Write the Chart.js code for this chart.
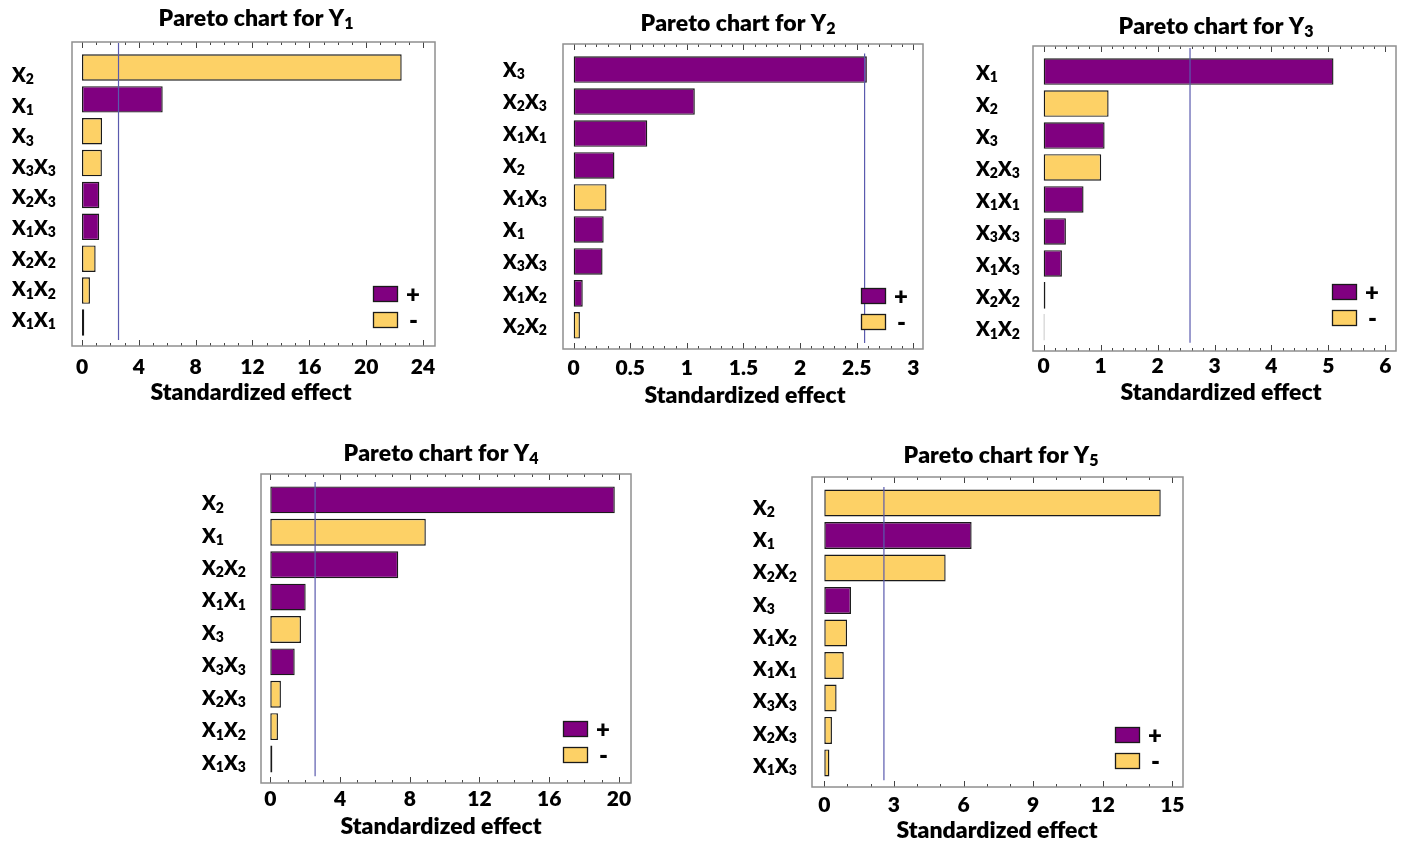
<!DOCTYPE html>
<html>
<head>
<meta charset="utf-8">
<title>Pareto charts of standardized effects</title>
<script src="https://cdn.jsdelivr.net/npm/chart.js@4.4.1/dist/chart.umd.min.js"></script>
<style>
  html, body { margin: 0; padding: 0; background: #fff; }
  body { width: 1406px; height: 841px; position: relative; overflow: hidden; }
  .panel { position: absolute; }
  .panel canvas { display: block; }
</style>
</head>
<body>
<div id="wrap"></div>
<script>
// ---- Standardized effects (absolute values) and their signs, per response ----
const y1Terms   = ['X₂', 'X₁', 'X₃', 'X₃X₃', 'X₂X₃', 'X₁X₃', 'X₂X₂', 'X₁X₂', 'X₁X₁'];
const y1Effects = [22.5, 5.68, 1.41, 1.40, 1.22, 1.21, 0.96, 0.56, 0.16];
const y1Signs   = ['-', '+', '-', '-', '+', '+', '-', '-', '+'];
const y1Ticks   = [0, 4, 8, 12, 16, 20, 24];

const y2Terms   = ['X₃', 'X₂X₃', 'X₁X₁', 'X₂', 'X₁X₃', 'X₁', 'X₃X₃', 'X₁X₂', 'X₂X₂'];
const y2Effects = [2.59, 1.07, 0.65, 0.36, 0.29, 0.265, 0.255, 0.08, 0.055];
const y2Signs   = ['+', '+', '+', '+', '-', '+', '+', '+', '-'];
const y2Ticks   = [0, 0.5, 1, 1.5, 2, 2.5, 3];

const y3Terms   = ['X₁', 'X₂', 'X₃', 'X₂X₃', 'X₁X₁', 'X₃X₃', 'X₁X₃', 'X₂X₂', 'X₁X₂'];
const y3Effects = [5.09, 1.14, 1.07, 1.01, 0.70, 0.39, 0.32, 0.03, 0.012];
const y3Signs   = ['+', '-', '+', '-', '+', '+', '+', '-', '+'];
const y3Ticks   = [0, 1, 2, 3, 4, 5, 6];

const y4Terms   = ['X₂', 'X₁', 'X₂X₂', 'X₁X₁', 'X₃', 'X₃X₃', 'X₂X₃', 'X₁X₂', 'X₁X₃'];
const y4Effects = [19.76, 8.92, 7.34, 2.03, 1.76, 1.40, 0.61, 0.44, 0.12];
const y4Signs   = ['+', '-', '+', '+', '-', '+', '-', '-', '+'];
const y4Ticks   = [0, 4, 8, 12, 16, 20];

const y5Terms   = ['X₂', 'X₁', 'X₂X₂', 'X₃', 'X₁X₂', 'X₁X₁', 'X₃X₃', 'X₂X₃', 'X₁X₃'];
const y5Effects = [14.5, 6.35, 5.23, 1.15, 0.98, 0.84, 0.53, 0.33, 0.22];
const y5Signs   = ['-', '+', '-', '+', '-', '-', '-', '-', '-'];
const y5Ticks   = [0, 3, 6, 9, 12, 15];

// Critical t value (alpha = 0.05) drawn as the reference line
const criticalT = 2.57;
const axisTitle = 'Standardized effect';

// ---- Styling ----
const FONT = "Lato, 'Noto Sans', 'DejaVu Sans', sans-serif";
const WEIGHT = '800';
const PLUS_COLOR = '#800080';
const MINUS_COLOR = '#FDD166';
const BAR_BORDER = '#1a1a1a';
const LINE_COLOR = '#5a5aae';
const FRAME_COLOR = '#8f8f8f';

// ---- Panel layout on the page ----
const panels = [
  { title: 'Pareto chart for Y₁', terms: y1Terms, effects: y1Effects, signs: y1Signs, ticks: y1Ticks,
    minor: 1, xMin: -0.704, xMax: 24.845, frame: [72, 42, 435, 346], labelLeft: 12,
    titleX: 256, titleY: 18, tickY: 367, axisTitleX: 251, axisTitleY: 392,
    labelShift: [7.5, -2.5], line: [-0.77, 8.55], legend: [37, 18] },
  { title: 'Pareto chart for Y₂', terms: y2Terms, effects: y2Effects, signs: y2Signs, ticks: y2Ticks,
    minor: 0.1, xMin: -0.0945, xMax: 3.086, frame: [563, 44, 923, 349], labelLeft: 503,
    titleX: 738, titleY: 23, tickY: 368, axisTitleX: 745, axisTitleY: 395,
    labelShift: [0, 0.5], line: [-0.5, 8.55], legend: [37, 19] },
  { title: 'Pareto chart for Y₃', terms: y3Terms, effects: y3Effects, signs: y3Signs, ticks: y3Ticks,
    minor: 0.2, xMin: -0.188, xMax: 6.188, frame: [1033, 46, 1396, 351], labelLeft: 976,
    titleX: 1216, titleY: 26, tickY: 366, axisTitleX: 1221, axisTitleY: 392,
    labelShift: [1, 2], line: [-0.74, 8.48], legend: [39, 25] },
  { title: 'Pareto chart for Y₄', terms: y4Terms, effects: y4Effects, signs: y4Signs, ticks: y4Ticks,
    minor: 1, xMin: -0.533, xMax: 20.69, frame: [261, 474, 631, 783], labelLeft: 202,
    titleX: 441, titleY: 453, tickY: 799, axisTitleX: 441, axisTitleY: 826,
    labelShift: [3.3, 3.5], line: [-0.55, 8.53], legend: [43, 20] },
  { title: 'Pareto chart for Y₅', terms: y5Terms, effects: y5Effects, signs: y5Signs, ticks: y5Ticks,
    minor: 1, xMin: -0.53, xMax: 15.46, frame: [812, 477, 1183, 787], labelLeft: 753,
    titleX: 1001, titleY: 455, tickY: 805, axisTitleX: 997, axisTitleY: 830,
    labelShift: [4.8, 2.8], line: [-0.49, 8.53], legend: [43, 18] }
];

// Text with subscript digits (₀..₉) drawn smaller and dropped below the baseline
const SUBS = '₀₁₂₃₄₅₆₇₈₉';
function drawRich(ctx, text, x, baseline, align, size) {
  const subSize = Math.round(size * 0.7);
  const drop = size * 0.12;
  const parts = [];
  for (const ch of text) {
    const k = SUBS.indexOf(ch);
    if (k >= 0) parts.push({ t: String(k), sub: true });
    else parts.push({ t: ch, sub: false });
  }
  const fontOf = p => `${WEIGHT} ${p.sub ? subSize : size}px ${FONT}`;
  let total = 0;
  parts.forEach(p => { ctx.font = fontOf(p); p.w = ctx.measureText(p.t).width; total += p.w; });
  let cx = align === 'center' ? x - total / 2 : align === 'right' ? x - total : x;
  ctx.textAlign = 'left';
  ctx.textBaseline = 'alphabetic';
  ctx.fillStyle = '#000';
  parts.forEach(p => {
    ctx.font = fontOf(p);
    ctx.fillText(p.t, cx, baseline + (p.sub ? drop : 0));
    cx += p.w;
  });
}

// Frame around the plot area with inward major/minor tick marks on top and bottom
const framePlugin = {
  id: 'paretoFrame',
  afterDraw(chart, args, opts) {
    const { ctx, chartArea: a, scales: { x } } = chart;
    ctx.save();
    ctx.strokeStyle = '#444';
    ctx.lineWidth = 1;
    const majors = opts.majors || [];
    const step = opts.minor;
    const start = Math.ceil(x.min / step - 1e-9);
    const end = Math.floor(x.max / step + 1e-9);
    for (let k = start; k <= end; k++) {
      const v = k * step;
      const isMajor = majors.some(m => Math.abs(m - v) < step * 1e-3);
      const len = isMajor ? 6 : 3;
      const px = Math.round(x.getPixelForValue(v)) + 0.5;
      ctx.beginPath();
      ctx.moveTo(px, a.bottom);
      ctx.lineTo(px, a.bottom - len);
      ctx.moveTo(px, a.top);
      ctx.lineTo(px, a.top + len);
      ctx.stroke();
    }
    ctx.strokeStyle = FRAME_COLOR;
    ctx.lineWidth = 1.5;
    ctx.strokeRect(a.left, a.top, a.right - a.left, a.bottom - a.top);
    ctx.restore();
  }
};

// Vertical reference line at the critical t value
const criticalLinePlugin = {
  id: 'criticalLine',
  afterDatasetsDraw(chart, args, opts) {
    const { ctx, scales: { x, y } } = chart;
    const px = x.getPixelForValue(opts.value);
    ctx.save();
    ctx.strokeStyle = LINE_COLOR;
    ctx.lineWidth = 1.2;
    ctx.beginPath();
    ctx.moveTo(px, y.getPixelForValue(opts.from));
    ctx.lineTo(px, y.getPixelForValue(opts.to));
    ctx.stroke();
    ctx.restore();
  }
};

// Sign legend ("+" / "-") placed inside the lower right corner of the plot
const signLegendPlugin = {
  id: 'signLegend',
  afterDatasetsDraw(chart, args, opts) {
    const { ctx, chartArea: a } = chart;
    const sw = 25, sh = 16, gap = 10;
    const right = a.right - opts.right;
    const bottom = a.bottom - opts.bottom;
    const items = chart.data.datasets;
    ctx.save();
    items.forEach((ds, i) => {
      const top = bottom - (items.length - i) * sh - (items.length - 1 - i) * gap;
      ctx.fillStyle = ds.backgroundColor;
      ctx.fillRect(right - sw, top, sw, sh);
      ctx.strokeStyle = BAR_BORDER;
      ctx.lineWidth = 1.3;
      ctx.strokeRect(right - sw + 0.5, top + 0.5, sw - 1, sh - 1);
      ctx.fillStyle = '#000';
      ctx.font = `${WEIGHT} 24px ${FONT}`;
      ctx.textBaseline = 'middle';
      ctx.textAlign = 'left';
      ctx.fillText(ds.label, right + (ds.label === '+' ? 8 : 11), top + sh / 2 + 1);
    });
    ctx.restore();
  }
};

// Panel title, axis title and the term labels beside each bar
const panelTextPlugin = {
  id: 'panelText',
  afterDraw(chart, args, o) {
    const { ctx, scales: { y } } = chart;
    ctx.save();
    drawRich(ctx, o.title, o.titleX, o.titleY + 8, 'center', 23);
    ctx.font = `${WEIGHT} 23px ${FONT}`;
    ctx.fillStyle = '#000';
    ctx.textAlign = 'center';
    ctx.textBaseline = 'alphabetic';
    ctx.fillText(o.axisTitle, o.axisTitleX, o.axisTitleY + 8);
    const n = o.terms.length;
    o.terms.forEach((t, i) => {
      const shift = o.shift[0] + (o.shift[1] - o.shift[0]) * i / (n - 1);
      const cy = y.getPixelForValue(i) + shift;
      drawRich(ctx, t, o.labelX, cy + 7, 'left', 20);
    });
    ctx.restore();
  }
};

const wrap = document.getElementById('wrap');

panels.forEach(p => {
  const [L, T, R, B] = p.frame;
  const left = p.labelLeft - 1;
  const top = p.titleY - 16;
  const width = R + 3 - left;
  const height = p.axisTitleY + 14 - top;

  const div = document.createElement('div');
  div.className = 'panel';
  div.style.left = left + 'px';
  div.style.top = top + 'px';
  const canvas = document.createElement('canvas');
  canvas.width = width;
  canvas.height = height;
  canvas.style.width = width + 'px';
  canvas.style.height = height + 'px';
  div.appendChild(canvas);
  wrap.appendChild(div);

  // Split effects into positive and negative series
  const plus = [], minus = [];
  p.effects.forEach((v, i) => {
    (p.signs[i] === '+' ? plus : minus).push({ x: v, y: i });
  });

  const xAxisHeight = (top + height) - B;

  new Chart(canvas, {
    type: 'bar',
    data: {
      datasets: [
        { label: '+', data: plus, backgroundColor: PLUS_COLOR },
        { label: '-', data: minus, backgroundColor: MINUS_COLOR }
      ]
    },
    plugins: [framePlugin, criticalLinePlugin, signLegendPlugin, panelTextPlugin],
    options: {
      responsive: false,
      animation: false,
      devicePixelRatio: 1,
      indexAxis: 'y',
      grouped: false,
      barPercentage: 0.83,
      categoryPercentage: 1,
      borderColor: BAR_BORDER,
      borderWidth: 1.4,
      borderSkipped: false,
      layout: { padding: { left: 0, right: 3, top: T - top, bottom: 0 } },
      scales: {
        x: {
          type: 'linear',
          position: 'bottom',
          min: p.xMin,
          max: p.xMax,
          grid: { display: false, drawTicks: false },
          border: { display: false },
          afterBuildTicks: s => { s.ticks = p.ticks.map(v => ({ value: v })); },
          afterFit: s => { s.height = xAxisHeight; s.paddingLeft = 0; s.paddingRight = 0; },
          ticks: {
            color: '#000',
            padding: p.tickY - B - 12,
            maxRotation: 0,
            autoSkip: false,
            font: { family: FONT, size: 21, weight: WEIGHT, lineHeight: 1.2 },
            callback: v => String(v)
          },
          title: { display: false }
        },
        y: {
          type: 'linear',
          position: 'left',
          reverse: true,
          offset: false,
          min: -0.8,
          max: 8.74,
          grid: { display: false, drawTicks: false },
          border: { display: false },
          afterBuildTicks: s => { s.ticks = p.terms.map((_, i) => ({ value: i })); },
          afterFit: s => { s.width = L - left; s.paddingTop = 0; s.paddingBottom = 0; },
          ticks: { display: false }
        }
      },
      plugins: {
        legend: { display: false },
        tooltip: { enabled: false },
        title: { display: false },
        paretoFrame: { minor: p.minor, majors: p.ticks },
        criticalLine: { value: criticalT, from: p.line[0], to: p.line[1] },
        signLegend: { right: p.legend[0], bottom: p.legend[1] },
        panelText: {
          title: p.title, titleX: p.titleX - left, titleY: p.titleY - top,
          axisTitle: axisTitle, axisTitleX: p.axisTitleX - left, axisTitleY: p.axisTitleY - top,
          terms: p.terms, labelX: p.labelLeft - left, shift: p.labelShift
        }
      }
    }
  });
});
</script>
</body>
</html>
